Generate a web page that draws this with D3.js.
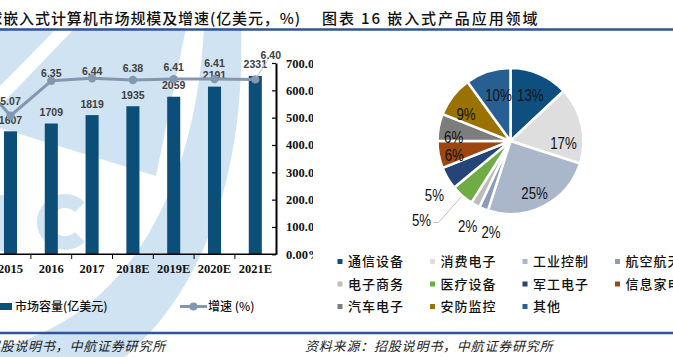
<!DOCTYPE html>
<html><head><meta charset="utf-8">
<script src="https://cdn.jsdelivr.net/npm/d3@7"></script>
<style>body{margin:0;background:#fff}svg{display:block}</style>
</head><body><svg id="c" width="673" height="357"></svg>
<script>
// ---------- data ----------
const years = ["2014","2015","2016","2017","2018E","2019E","2020E","2021E"];
const marketSize = [1529,1607,1709,1819,1935,2059,2191,2331];
const growth = [6.78,5.07,6.35,6.44,6.38,6.41,6.41,6.40];
const rightTickValues = [0,1,2,3,4,5,6,7];
const rightTickLabels = ["0.00%","100.00%","200.00%","300.00%","400.00%","500.00%","600.00%","700.00%"];
const sectors = ["通信设备","消费电子","工业控制","航空航天","电子商务","医疗设备","军工电子","信息家电","汽车电子","安防监控","其他"];
const shares = [13,17,25,2,2,5,5,6,6,9,10];
const sectorColors = ["#0d5080","#dedede","#aab7cb","#8a9dbb","#bdbdbd","#6fac46","#264478","#9c470f","#7d7d7d","#9a7200","#275f93"];

// ---------- setup ----------
const svg = d3.select("#c");
const CJK = "'Noto Sans CJK SC', sans-serif";
const SERIF = "'Liberation Serif', 'Times New Roman', serif";
const SANS = "'Liberation Sans', Arial, sans-serif";
const BAR = "#0b4f79", LINE = "#8497b0", TXT = "#404040";

svg.append("defs").append("clipPath").attr("id","lp")
  .append("rect").attr("x",0).attr("y",0).attr("width",313).attr("height",357);

// ---------- watermark ----------
const wm = svg.append("g").attr("clip-path","url(#lp)").attr("fill","#cfe3f3");
wm.append("path").attr("d","M0,28 L57,28 L0,86 Z");
wm.append("path").attr("d","M75,28 L186,28 L156,176 L0,128 L0,106 Z");
wm.append("path").attr("d","M204,28 L241,28 C245,150 215,280 125,357 L0,357 L0,347 C120,320 195,200 204,28 Z");
wm.append("rect").attr("x",-10).attr("y",195).attr("width",17).attr("height",56);
wm.append("path").attr("transform","translate(65,222)")
  .attr("d", d3.arc().innerRadius(14).outerRadius(28).startAngle(Math.PI*0.75).endAngle(Math.PI*2.25)());

// ---------- rules & titles ----------
svg.append("line").attr("x1",0).attr("x2",673).attr("y1",29.5).attr("y2",29.5).attr("stroke","#2f5597").attr("stroke-width",2.5);
svg.append("line").attr("x1",0).attr("x2",673).attr("y1",333).attr("y2",333).attr("stroke","#2f5597").attr("stroke-width",2.5);

svg.append("text").attr("x",301).attr("y",24).attr("text-anchor","end")
  .attr("font-family",CJK).attr("font-size",15).attr("font-weight",500).attr("letter-spacing",0.9).attr("fill","#111")
  .text("图表 15 全球嵌入式计算机市场规模及增速(亿美元，%)");
svg.append("text").attr("x",322).attr("y",24)
  .attr("font-family",CJK).attr("font-size",15).attr("font-weight",500).attr("letter-spacing",1.9).attr("fill","#111")
  .text("图表 16 嵌入式产品应用领域");

svg.append("text").attr("x",166).attr("y",351).attr("text-anchor","end")
  .attr("font-family",CJK).attr("font-size",13).attr("font-style","italic").attr("letter-spacing",0.8).attr("fill","#222")
  .text("资料来源：招股说明书，中航证券研究所");
svg.append("text").attr("x",305).attr("y",351)
  .attr("font-family",CJK).attr("font-size",13).attr("font-style","italic").attr("letter-spacing",0.8).attr("fill","#222")
  .text("资料来源：招股说明书，中航证券研究所");

// ---------- left chart ----------
const L = svg.append("g").attr("clip-path","url(#lp)");
const x = d3.scaleBand().domain(years).range([-50.7,275.7]).paddingInner(0.68).paddingOuter(0.34);
const yB = d3.scaleLinear().domain([0,2500]).range([254.3,63]);
const yG = d3.scaleLinear().domain([0,7]).range([254.3,63]);
const cx = d => x(d) + x.bandwidth()/2;

L.selectAll("rect.bar").data(years).join("rect").attr("class","bar")
  .attr("x", d => x(d)).attr("width", x.bandwidth())
  .attr("y", (d,i) => yB(marketSize[i])).attr("height", (d,i) => yB(0) - yB(marketSize[i]))
  .attr("fill", BAR);

// x axis
L.append("line").attr("x1",0).attr("x2",276).attr("y1",254.3).attr("y2",254.3).attr("stroke","#000").attr("stroke-width",1.5);
L.selectAll("line.xt").data(years.slice(0,-1)).join("line").attr("class","xt")
  .attr("x1", d => x(d) + x.bandwidth() + x.step()*x.paddingInner()/2)
  .attr("x2", d => x(d) + x.bandwidth() + x.step()*x.paddingInner()/2)
  .attr("y1",254.3).attr("y2",259).attr("stroke","#000").attr("stroke-width",1);
L.selectAll("text.xl").data(years).join("text").attr("class","xl")
  .attr("x", cx).attr("y",273).attr("text-anchor","middle")
  .attr("font-family",SERIF).attr("font-weight","bold").attr("font-size",12.5).attr("fill","#111")
  .text(d => d);

// right y axis
const yAxis = d3.axisRight(yG).tickValues(rightTickValues).tickSize(0).tickFormat((d,i)=>rightTickLabels[i]);
const ya = L.append("g").attr("transform","translate(276,0)").call(yAxis);
ya.select(".domain").attr("stroke","#000").attr("stroke-width",2);
ya.selectAll(".tick text").attr("x",10).attr("font-family",SERIF).attr("font-weight","bold").attr("font-size",12.5).attr("fill","#111");
ya.selectAll(".tick").append("line").attr("x1",-4).attr("x2",0).attr("stroke","#000").attr("stroke-width",1.2);

// bar labels
L.selectAll("text.bl").data(years).join("text").attr("class","bl")
  .attr("x", cx).attr("y", (d,i) => yB(marketSize[i]) - 7.5).attr("text-anchor","middle")
  .attr("font-family",SANS).attr("font-weight","bold").attr("font-size",10.5).attr("fill",TXT)
  .text((d,i) => marketSize[i]);

// growth line
const line = d3.line().x(d => cx(d)).y((d,i) => yG(growth[i]));
L.append("path").attr("d", line(years)).attr("fill","none").attr("stroke",LINE).attr("stroke-width",3).attr("stroke-linejoin","round");
L.selectAll("circle.pt").data(years).join("circle").attr("class","pt")
  .attr("cx", cx).attr("cy", (d,i) => yG(growth[i])).attr("r",4.2).attr("fill",LINE);

// growth label placement (dx, dy from the point), as in the source
const growthLabelOffset = {
  "2014":[0,-8], "2015":[0,-11], "2016":[0,-4], "2017":[0,-3], "2018E":[0,-8],
  "2019E":[0,-8], "2020E":[0,-12], "2021E":[15.5,-20.5]
};
const last = years.length - 1;
L.selectAll("text.gl").data(years).join("text").attr("class","gl")
  .attr("x", d => cx(d) + growthLabelOffset[d][0])
  .attr("y", (d,i) => yG(growth[i]) + growthLabelOffset[d][1])
  .attr("text-anchor","middle")
  .attr("font-family",SANS).attr("font-weight","bold").attr("font-size",10.5).attr("fill",TXT)
  .text((d,i) => growth[i].toFixed(2));
L.append("line").attr("x1", cx(years[last]) + 1).attr("y1", yG(growth[last]) - 2)
  .attr("x2", cx(years[last]) + 12.5).attr("y2", yG(growth[last]) - 19)
  .attr("stroke","#bfbfbf").attr("stroke-width",1);

// left legend
L.append("rect").attr("x",0).attr("y",303).attr("width",12).attr("height",7).attr("fill",BAR);
L.append("text").attr("x",15).attr("y",311).attr("font-family",CJK).attr("font-size",12).attr("font-weight",500).attr("fill","#111")
  .text("市场容量(亿美元)");
L.append("line").attr("x1",180).attr("x2",207).attr("y1",306.5).attr("y2",306.5).attr("stroke",LINE).attr("stroke-width",3);
L.append("circle").attr("cx",193.5).attr("cy",306.5).attr("r",4).attr("fill",LINE);
L.append("text").attr("x",208).attr("y",311).attr("font-family",CJK).attr("font-size",12).attr("font-weight",500).attr("fill","#111")
  .text("增速 (%)");

// ---------- pie ----------
const pcx = 510.5, pcy = 141, R = 73;
const pieData = d3.pie().sort(null).value((d,i)=>shares[i])(sectors);
const arc = d3.arc().innerRadius(0).outerRadius(R);
const P = svg.append("g").attr("transform",`translate(${pcx},${pcy})`);
P.selectAll("path").data(pieData).join("path")
  .attr("d", arc).attr("fill", (d,i)=>sectorColors[i])
  .attr("stroke","#fff").attr("stroke-width",2.5).attr("stroke-linejoin","round");

// label placement (radius, angular nudge in degrees) per sector
const labelPlace = {
  "通信设备":[50,0], "消费电子":[53,15], "工业控制":[57,2], "航空航天":[93,-9.5],
  "电子商务":[95,-2], "医疗设备":[119,7], "军工电子":[93,-4.5], "信息家电":[58,-3.5],
  "汽车电子":[57,-7], "安防监控":[52,-6.5], "其他":[48,3.4]
};
const polar = (r,a) => [r*Math.sin(a), -r*Math.cos(a)];
pieData.forEach((d,i) => {
  const mid = (d.startAngle + d.endAngle)/2;
  const [r, da] = labelPlace[sectors[i]];
  const [lx, ly] = polar(r, mid + da*Math.PI/180);
  P.append("text").attr("transform",`translate(${lx},${ly}) scale(0.78,1)`)
    .attr("text-anchor","middle").attr("dy","0.36em")
    .attr("font-family",SANS).attr("font-size",17).attr("fill","#111")
    .text(shares[i] + "%");
  if (sectors[i] === "医疗设备") {
    const [ex, ey] = polar(R + 1, mid);
    P.append("polyline").attr("points",`${lx+12},${ly+2.5} ${lx+17},${ly+2.5} ${ex},${ey}`)
      .attr("fill","none").attr("stroke","#bfbfbf").attr("stroke-width",1);
  }
});

// pie legend
const colX = [340, 432.5, 525, 617.5], rowY = [261.5, 284, 306.5];
const lg = svg.selectAll("g.lg").data(sectors).join("g").attr("class","lg")
  .attr("transform",(d,i)=>`translate(${colX[i%4]},${rowY[Math.floor(i/4)]})`);
lg.append("rect").attr("x",-2.5).attr("y",-2.5).attr("width",5).attr("height",5).attr("fill",(d,i)=>sectorColors[i]);
lg.append("text").attr("x",8).attr("dy","0.36em").attr("font-family",CJK).attr("font-size",13).attr("font-weight",500)
  .attr("letter-spacing",1).attr("fill","#111").text(d=>d);
</script></body></html>
